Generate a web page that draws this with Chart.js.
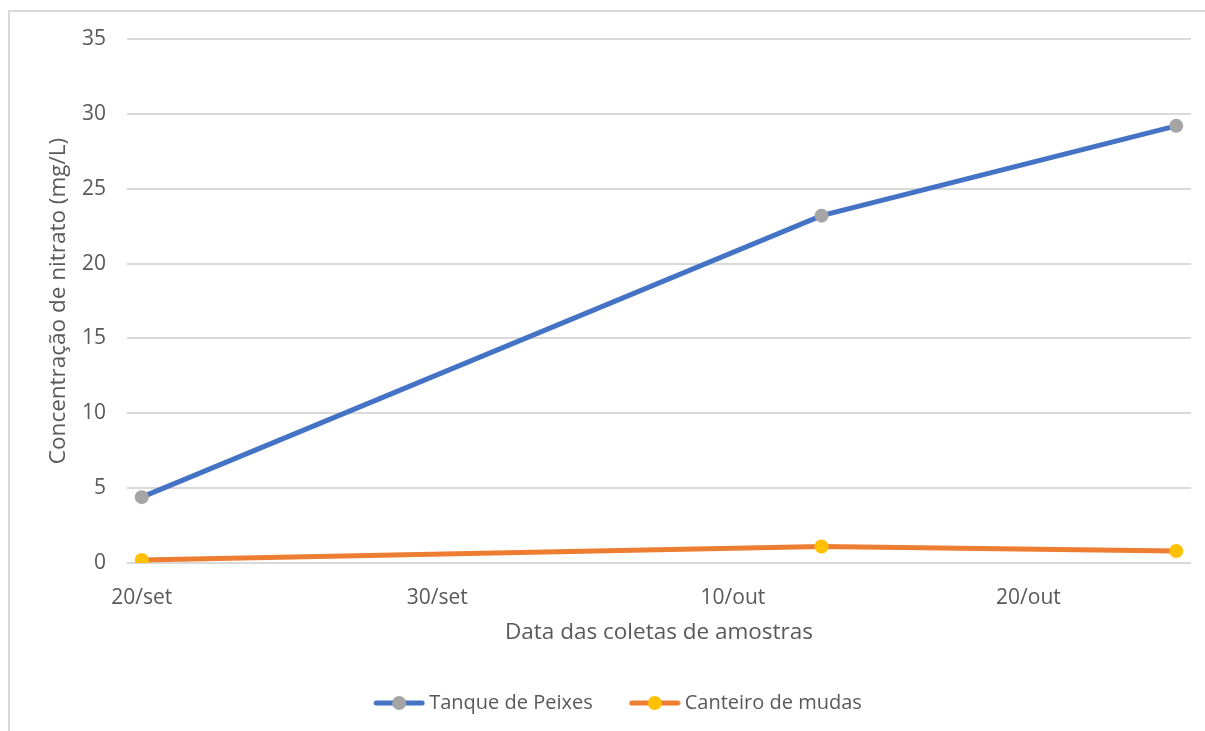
<!DOCTYPE html>
<html lang="pt-BR">
<head>
<meta charset="utf-8">
<title>Concentração de nitrato</title>
<script src="https://cdn.jsdelivr.net/npm/chart.js@4/dist/chart.umd.min.js"></script>
<style>
  html, body { margin: 0; padding: 0; width: 1205px; height: 731px; overflow: hidden; background: #ffffff; }
  #frame { position: absolute; left: 8px; top: 10px; width: 1300px; height: 800px; border: 2px solid #d9d9d9; box-sizing: border-box; }
  #wrap { position: absolute; left: 0; top: 0; width: 1205px; height: 731px; }
</style>
</head>
<body>
<div id="frame"></div>
<div id="wrap"><canvas id="chart" width="1205" height="731"></canvas></div>
<script>
// Sampling days, counted from 20/set (day 0)
const sampleDays = [0, 23, 35];
const sampleDates = ['20/set', '13/out', '25/out'];

// Nitrate concentration (mg/L)
const tanquePeixes = [4.4, 23.2, 29.2];
const canteiroMudas = [0.2, 1.1, 0.8];

// Date axis labels every 10 days
const tickDays = [0, 10, 20, 30];
const tickLabels = ['20/set', '30/set', '10/out', '20/out'];

const yTicks = [0, 5, 10, 15, 20, 25, 30, 35];

const FONT = '"Open Sans", sans-serif';
const TICK_SIZE = 21;
const TITLE_SIZE = 22.5;
const LEGEND_SIZE = 20;
const TEXT = '#595959';

// legend marker: short line with a dot in the middle, drawn at the right of the canvas
function legendMarker(lineColor, dotColor) {
  const c = document.createElement('canvas');
  c.width = 82; c.height = 16;
  const g = c.getContext('2d');
  g.strokeStyle = lineColor;
  g.lineWidth = 5;
  g.lineCap = 'round';
  g.beginPath(); g.moveTo(33, 8); g.lineTo(79, 8); g.stroke();
  g.fillStyle = dotColor;
  g.beginPath(); g.arc(56, 8, 7, 0, Math.PI * 2); g.fill();
  return c;
}

const toPoints = (vals) => vals.map((v, i) => ({ x: sampleDays[i], y: v }));

new Chart(document.getElementById('chart'), {
  type: 'line',
  data: {
    datasets: [
      {
        label: 'Tanque de Peixes',
        data: toPoints(tanquePeixes),
        borderColor: '#4472c4',
        backgroundColor: '#a5a5a5',
        pointBackgroundColor: '#a5a5a5',
        pointBorderColor: '#a5a5a5',
        borderWidth: 5,
        pointRadius: 7,
        pointBorderWidth: 0,
        tension: 0,
        legendMarker: legendMarker('#4472c4', '#a5a5a5')
      },
      {
        label: 'Canteiro de mudas',
        data: toPoints(canteiroMudas),
        borderColor: '#ed7d31',
        backgroundColor: '#ffc000',
        pointBackgroundColor: '#ffc000',
        pointBorderColor: '#ffc000',
        borderWidth: 5,
        pointRadius: 7,
        pointBorderWidth: 0,
        tension: 0,
        legendMarker: legendMarker('#ed7d31', '#ffc000')
      }
    ]
  },
  options: {
    responsive: false,
    animation: false,
    layout: { padding: { left: 20, right: 14, top: 39, bottom: 8 } },
    plugins: {
      tooltip: { enabled: false },
      legend: {
        position: 'bottom',
        labels: {
          color: TEXT,
          font: { family: FONT, size: LEGEND_SIZE },
          usePointStyle: true,
          pointStyleWidth: 70,
          padding: 12,
          generateLabels(chart) {
            return chart.data.datasets.map((ds, i) => ({
              text: ds.label,
              fontColor: TEXT,
              pointStyle: ds.legendMarker,
              datasetIndex: i,
              hidden: false,
              lineWidth: 0,
              strokeStyle: 'transparent',
              fillStyle: 'transparent'
            }));
          }
        }
      }
    },
    scales: {
      x: {
        type: 'linear',
        min: -0.5,
        max: 35.5,
        afterBuildTicks(scale) { scale.ticks = tickDays.map(v => ({ value: v })); },
        afterFit(scale) { scale.height = 118; },
        ticks: {
          color: TEXT,
          font: { family: FONT, size: TICK_SIZE },
          padding: 22,
          maxRotation: 0,
          autoSkip: false,
          callback(value) { const i = tickDays.indexOf(value); return i >= 0 ? tickLabels[i] : ''; }
        },
        grid: { display: false, drawTicks: false },
        border: { display: false },
        title: {
          display: true,
          text: 'Data das coletas de amostras',
          color: TEXT,
          font: { family: FONT, size: TITLE_SIZE },
          padding: { top: 0, bottom: 35 }
        }
      },
      y: {
        min: 0,
        max: 35,
        afterBuildTicks(scale) { scale.ticks = yTicks.map(v => ({ value: v })); },
        afterFit(scale) { scale.width = 107; },
        ticks: {
          color: TEXT,
          font: { family: FONT, size: TICK_SIZE },
          padding: 21
        },
        grid: { color: '#d9d9d9', lineWidth: 2, drawTicks: false },
        border: { display: false },
        title: {
          display: true,
          text: 'Concentração de nitrato (mg/L)',
          color: TEXT,
          font: { family: FONT, size: TITLE_SIZE },
          padding: { top: 25.5, bottom: 0 }
        }
      }
    }
  }
});
</script>
</body>
</html>
